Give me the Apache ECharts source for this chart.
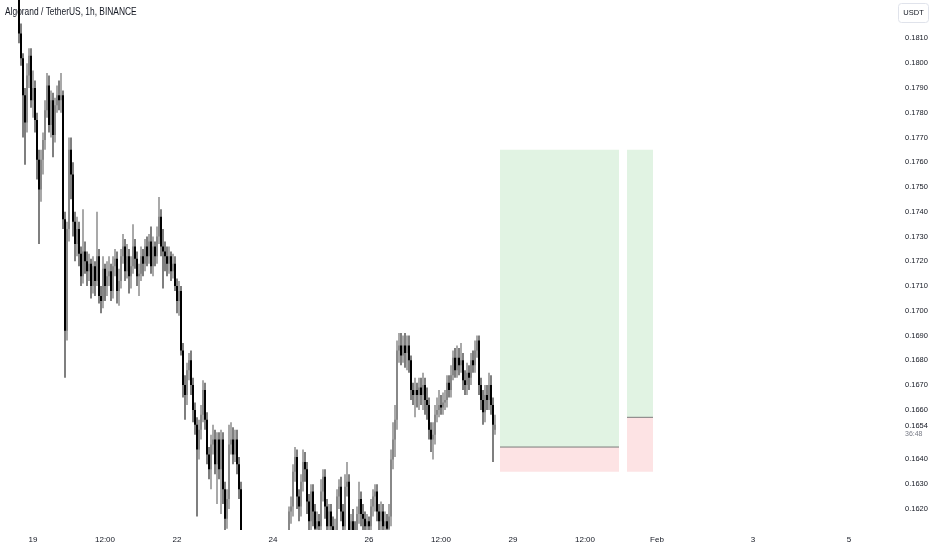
<!DOCTYPE html>
<html>
<head>
<meta charset="utf-8">
<script src="https://cdn.jsdelivr.net/npm/echarts@6/dist/echarts.min.js"></script>
<style>html,body{margin:0;padding:0;background:#fff}#c{width:932px;height:550px}</style>
</head>
<body>
<div id="c"></div>
<script>
// ---- data (hourly candles, index 0 = Jan 18 08:00) ----
const opens = [
.1858,.1852,.1855,.1849,.1851,.1846,.1848,.1842,.1845,.1838,.1812,.1802,.1787,.1776,.1795,.1803,.1785,.1790,.1777,.1761,
.1749,.1761,.1769,.1781,.1791,.1775,.1785,.1771,.1783,.1787,.1785,.1787,.1737,.1692,.1733,.1765,.1755,.1736,.1727,.1733,
.1723,.1714,.1724,.1720,.1716,.1719,.1710,.1718,.1712,.1722,.1706,.1704,.1717,.1710,.1714,.1716,.1708,.1718,.1721,.1708,
.1712,.1722,.1726,.1716,.1722,.1714,.1718,.1726,.1721,.1714,.1715,.1722,.1719,.1726,.1722,.1728,.1718,.1726,.1722,.1730,
.1738,.1726,.1724,.1722,.1719,.1722,.1716,.1719,.1710,.1704,.1708,.1684,.1670,.1666,.1676,.1680,.1670,.1660,.1654,.1644,
.1652,.1658,.1668,.1656,.1642,.1636,.1646,.1648,.1638,.1648,.1636,.1648,.1628,.1616,.1624,.1646,.1648,.1642,.1648,.1638,
.1628,.1608,.1602,.1598,.1601,.1595,.1592,.1597,.1593,.1589,.1594,.1598,.1591,.1587,.1593,.1590,.1596,.1592,.1598,.1594,
.1599,.1596,.1601,.1598,.1604,.1619,.1621,.1635,.1641,.1625,.1621,.1631,.1639,.1636,.1623,.1615,.1627,.1619,.1612,.1615,
.1613,.1627,.1633,.1621,.1613,.1619,.1613,.1608,.1611,.1625,.1629,.1619,.1613,.1629,.1631,.1609,.1615,.1611,.1610,.1618,
.1624,.1618,.1616,.1613,.1615,.1613,.1621,.1625,.1627,.1619,.1615,.1619,.1613,.1615,.1612,.1617,.1640,.1648,.1656,.1684,
.1686,.1682,.1686,.1683,.1686,.1680,.1668,.1666,.1668,.1666,.1669,.1666,.1670,.1664,.1662,.1652,.1648,.1650,.1658,.1660,
.1662,.1661,.1663,.1664,.1671,.1668,.1674,.1681,.1676,.1681,.1678,.1680,.1672,.1670,.1675,.1673,.1680,.1678,.1684,.1688,
.1670,.1664,.1659,.1666,.1664,.1670,.1662,.1652
];
const closes = [
.1852,.1855,.1849,.1851,.1846,.1848,.1842,.1845,.1838,.1812,.1802,.1787,.1776,.1795,.1803,.1785,.1790,.1777,.1761,.1749,
.1761,.1769,.1781,.1791,.1775,.1785,.1771,.1783,.1787,.1785,.1787,.1737,.1692,.1733,.1765,.1755,.1736,.1727,.1733,.1723,
.1714,.1724,.1720,.1716,.1719,.1710,.1718,.1712,.1722,.1706,.1704,.1717,.1710,.1714,.1716,.1708,.1718,.1721,.1708,.1712,
.1722,.1726,.1716,.1722,.1714,.1718,.1726,.1721,.1714,.1715,.1722,.1719,.1726,.1722,.1728,.1718,.1726,.1722,.1730,.1738,
.1726,.1724,.1722,.1719,.1722,.1716,.1719,.1710,.1704,.1708,.1684,.1670,.1666,.1676,.1680,.1670,.1660,.1654,.1644,.1652,
.1658,.1668,.1656,.1642,.1636,.1646,.1648,.1638,.1648,.1636,.1648,.1628,.1616,.1624,.1646,.1648,.1642,.1648,.1638,.1628,
.1608,.1602,.1598,.1601,.1595,.1592,.1597,.1593,.1589,.1594,.1598,.1591,.1587,.1593,.1590,.1596,.1592,.1598,.1594,.1599,
.1596,.1601,.1598,.1604,.1619,.1621,.1635,.1641,.1625,.1621,.1631,.1639,.1636,.1623,.1615,.1627,.1619,.1612,.1615,.1613,
.1627,.1633,.1621,.1613,.1619,.1613,.1608,.1611,.1625,.1629,.1619,.1613,.1629,.1631,.1609,.1615,.1611,.1610,.1618,.1624,
.1618,.1616,.1613,.1615,.1613,.1621,.1625,.1627,.1619,.1615,.1619,.1613,.1615,.1612,.1617,.1640,.1648,.1656,.1684,.1686,
.1682,.1686,.1683,.1686,.1680,.1668,.1666,.1668,.1666,.1669,.1666,.1670,.1664,.1662,.1652,.1648,.1650,.1658,.1660,.1662,
.1661,.1663,.1664,.1671,.1668,.1674,.1681,.1676,.1681,.1678,.1680,.1672,.1670,.1675,.1673,.1680,.1678,.1684,.1688,.1670,
.1664,.1659,.1666,.1664,.1670,.1662,.1654,.1654
];
const lows = [
.1846,.1848,.1843,.1844,.1840,.1841,.1837,.1838,.1833,.1808,.1799,.1770,.1759,.1772,.1790,.1782,.1778,.1772,.1753,.1727,
.1744,.1755,.1765,.1778,.1772,.1770,.1762,.1768,.1780,.1781,.1780,.1733,.1673,.1688,.1728,.1745,.1730,.1720,.1722,.1718,
.1710,.1711,.1715,.1710,.1712,.1705,.1707,.1706,.1710,.1703,.1699,.1701,.1704,.1706,.1710,.1704,.1705,.1714,.1703,.1702,
.1709,.1719,.1712,.1713,.1707,.1709,.1715,.1717,.1710,.1706,.1712,.1714,.1716,.1718,.1719,.1715,.1714,.1718,.1719,.1727,
.1722,.1709,.1716,.1714,.1715,.1712,.1713,.1708,.1699,.1698,.1682,.1665,.1656,.1662,.1672,.1666,.1655,.1650,.1617,.1640,
.1648,.1655,.1652,.1638,.1632,.1628,.1642,.1634,.1622,.1632,.1618,.1622,.1610,.1612,.1620,.1642,.1638,.1639,.1634,.1624,
.1600,.1596,.1592,.1594,.1590,.1586,.1588,.1589,.1584,.1586,.1591,.1587,.1582,.1584,.1586,.1587,.1588,.1590,.1590,.1591,
.1592,.1593,.1594,.1595,.1600,.1614,.1617,.1631,.1620,.1615,.1617,.1627,.1631,.1618,.1611,.1610,.1613,.1605,.1607,.1606,
.1609,.1623,.1616,.1607,.1608,.1606,.1600,.1603,.1607,.1620,.1615,.1607,.1609,.1625,.1604,.1604,.1606,.1604,.1606,.1614,
.1613,.1611,.1607,.1608,.1608,.1609,.1617,.1619,.1615,.1611,.1610,.1608,.1608,.1607,.1607,.1613,.1636,.1641,.1652,.1679,
.1678,.1679,.1677,.1676,.1675,.1664,.1662,.1657,.1661,.1660,.1662,.1660,.1658,.1656,.1648,.1643,.1640,.1646,.1655,.1657,
.1658,.1658,.1660,.1661,.1665,.1665,.1672,.1673,.1673,.1674,.1675,.1668,.1666,.1666,.1668,.1670,.1675,.1675,.1681,.1666,
.1660,.1654,.1655,.1660,.1660,.1658,.1639,.1650
];
const highs = [
.1864,.1860,.1858,.1856,.1854,.1852,.1850,.1849,.1847,.1840,.1816,.1804,.1790,.1800,.1806,.1806,.1797,.1793,.1780,.1765,
.1765,.1772,.1785,.1796,.1795,.1789,.1788,.1786,.1791,.1793,.1796,.1789,.1740,.1736,.1770,.1770,.1760,.1740,.1738,.1736,
.1726,.1741,.1728,.1724,.1723,.1721,.1722,.1720,.1740,.1725,.1710,.1722,.1719,.1720,.1722,.1719,.1722,.1725,.1724,.1717,
.1725,.1731,.1729,.1727,.1725,.1722,.1735,.1729,.1724,.1719,.1726,.1725,.1729,.1730,.1731,.1734,.1730,.1728,.1734,.1746,
.1741,.1733,.1728,.1726,.1726,.1724,.1723,.1722,.1713,.1712,.1710,.1687,.1674,.1679,.1683,.1684,.1673,.1663,.1657,.1656,
.1662,.1672,.1671,.1659,.1645,.1650,.1654,.1652,.1651,.1651,.1652,.1651,.1631,.1628,.1654,.1655,.1653,.1652,.1652,.1641,
.1631,.1609,.1606,.1605,.1604,.1598,.1600,.1601,.1596,.1598,.1602,.1600,.1594,.1596,.1597,.1599,.1600,.1602,.1601,.1603,
.1604,.1605,.1606,.1608,.1621,.1625,.1638,.1645,.1644,.1628,.1634,.1644,.1643,.1639,.1626,.1630,.1630,.1622,.1619,.1618,
.1632,.1636,.1636,.1624,.1622,.1622,.1617,.1616,.1628,.1632,.1633,.1622,.1634,.1639,.1634,.1618,.1620,.1615,.1621,.1631,
.1627,.1622,.1619,.1618,.1617,.1624,.1628,.1630,.1630,.1622,.1623,.1622,.1619,.1618,.1622,.1644,.1655,.1662,.1688,.1691,
.1691,.1690,.1691,.1690,.1690,.1682,.1671,.1673,.1671,.1673,.1673,.1675,.1673,.1669,.1665,.1655,.1655,.1662,.1665,.1668,
.1666,.1667,.1668,.1674,.1674,.1678,.1684,.1685,.1686,.1685,.1687,.1683,.1676,.1679,.1678,.1683,.1684,.1688,.1690,.1690,
.1673,.1668,.1670,.1670,.1675,.1674,.1665,.1658
];
// position tool boxes (x in hours from index 0, prices)
const boxStart = [250, 313.5];
const boxEnd = [309.5, 326.5];
const boxTarget = [0.1765, 0.1765];
const boxEntry = [0.1645, 0.1657];
const boxStop = [0.1635, 0.1635];
// time axis
const hourCount = 446;
const tickIndex = [16, 52, 88, 136, 184, 220, 256, 292, 328, 376, 424];
const tickText = ['19', '12:00', '22', '24', '26', '12:00', '29', '12:00', 'Feb', '3', '5'];
const hiddenPriceLabels = [165, 182];
const lastPrice = 0.1654;
const countdown = '36:48';

const FONT = '"Liberation Sans", Arial, sans-serif';
const TXT = '#131722';

const cats = [];
for (let i = 0; i < hourCount; i++) cats.push(String(i));
const candles = opens.map((o, i) => [i, o, closes[i], lows[i], highs[i]]);
const boxes = boxStart.map((s, i) => [s, boxEnd[i], boxTarget[i], boxEntry[i], boxStop[i]]);

const chart = echarts.init(document.getElementById('c'), null, {renderer: 'canvas'});
chart.setOption({
  animation: false,
  backgroundColor: '#ffffff',
  grid: {left: 0, right: 40, top: 0, bottom: 20},
  xAxis: [{
    type: 'category', data: cats, boundaryGap: true,
    axisLine: {show: false}, axisTick: {show: false}, splitLine: {show: false},
    axisLabel: {
      interval: (idx) => tickIndex.indexOf(idx) >= 0,
      formatter: (v) => { const k = tickIndex.indexOf(parseInt(v)); return k >= 0 ? tickText[k] : ''; },
      color: TXT, fontSize: 8, fontFamily: FONT, margin: 6
    }
  }, {
    type: 'value', min: 0, max: hourCount, show: false
  }],
  yAxis: {
    type: 'value', position: 'right', min: 0.16115, max: 0.18255, interval: 0.00005, scale: true,
    axisLine: {show: false}, axisTick: {show: false}, splitLine: {show: false},
    axisLabel: {
      color: TXT, fontSize: 7.5, fontFamily: FONT, margin: 13,
      formatter: (v) => {
        const m = v * 1000;
        if (Math.abs(m - Math.round(m)) > 1e-6) return '';
        if (hiddenPriceLabels.indexOf(Math.round(m)) >= 0) return '';
        return v.toFixed(4);
      }
    }
  },
  series: [{
    type: 'custom', xAxisIndex: 0, data: candles, clip: true,
    encode: {x: 0, y: [1, 2, 3, 4]},
    renderItem: (params, api) => {
      const i = api.value(0);
      const pO = api.coord([i, api.value(1)]);
      const pC = api.coord([i, api.value(2)]);
      const pL = api.coord([i, api.value(3)]);
      const pH = api.coord([i, api.value(4)]);
      const x = pO[0];
      const bull = api.value(2) >= api.value(1);
      const top = Math.min(pO[1], pC[1]);
      const h = Math.max(Math.abs(pO[1] - pC[1]), 1);
      return {type: 'group', children: [
        {type: 'rect', shape: {x: x - 0.5, y: pH[1], width: 1, height: pL[1] - pH[1]}, style: {fill: bull ? '#555555' : '#000000'}},
        {type: 'rect', shape: {x: x - 1, y: top, width: 2, height: h}, style: {fill: bull ? '#888888' : '#000000'}}
      ]};
    }
  }, {
    type: 'custom', xAxisIndex: 1, data: boxes,
    renderItem: (params, api) => {
      const p1 = api.coord([api.value(0), api.value(2)]);
      const p2 = api.coord([api.value(1), api.value(3)]);
      const p3 = api.coord([api.value(1), api.value(4)]);
      return {type: 'group', children: [
        {type: 'rect', shape: {x: p1[0], y: p1[1], width: p2[0] - p1[0], height: p2[1] - p1[1]}, style: {fill: '#e1f3e3'}},
        {type: 'rect', shape: {x: p1[0], y: p2[1], width: p2[0] - p1[0], height: p3[1] - p2[1]}, style: {fill: '#fde3e4'}},
        {type: 'line', shape: {x1: p1[0], y1: p2[1], x2: p2[0], y2: p2[1]}, style: {stroke: '#7b7b7b', lineWidth: 1}}
      ]};
    }
  }]
});

const py = chart.convertToPixel({yAxisIndex: 0}, lastPrice);
chart.setOption({
  graphic: [
    {type: 'text', x: 5, y: 12, scaleX: 0.8, style: {text: 'Algorand / TetherUS, 1h, BINANCE', fill: TXT, font: '10.5px ' + FONT, verticalAlign: 'middle'}},
    {type: 'rect', shape: {x: 898.5, y: 3.5, width: 30, height: 19, r: 3}, style: {fill: '#fff', stroke: '#e0e3eb', lineWidth: 1}},
    {type: 'text', x: 913.5, y: 13, style: {text: 'USDT', fill: TXT, font: '7.5px ' + FONT, align: 'center', verticalAlign: 'middle'}},
    {type: 'text', x: 905, y: py + 1, style: {text: lastPrice.toFixed(4), fill: TXT, font: '7.5px ' + FONT, verticalAlign: 'middle'}},
    {type: 'text', x: 905, y: py + 9, style: {text: countdown, fill: '#787b86', font: '7px ' + FONT, verticalAlign: 'middle'}}
  ]
});
</script>
</body>
</html>
